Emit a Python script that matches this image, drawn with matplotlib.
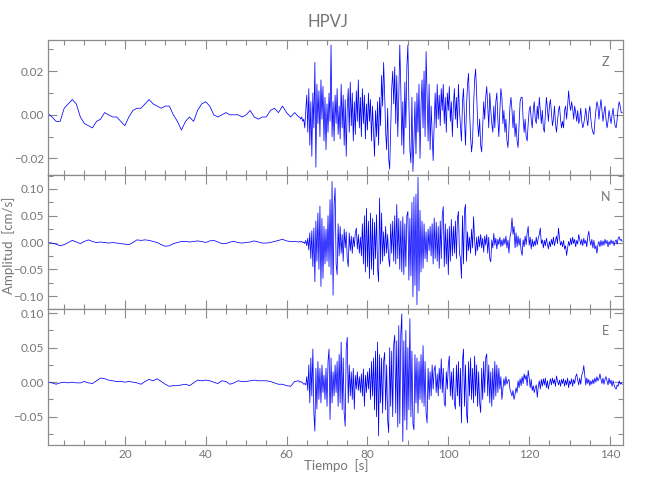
import matplotlib
matplotlib.use("Agg")

import numpy as np
import matplotlib.pyplot as plt
from matplotlib.ticker import MultipleLocator, FuncFormatter


STATION = "HPVJ"
COMPONENTS = ["Z", "N", "E"]

# Amplitudes read from the record, in units of 1e-3 cm/s.
# Pre-event part: one reading per second, t = 1 ... 63 s
pre_time = np.arange(1, 64, 1.0)
# Event part: four readings per second, t = 63.25 ... 143 s (one row = 5 s)
event_time = np.arange(63.25, 143.01, 0.25)

z_pre = [
    0.5, -1, -3, -3, 3, 5, 7, 5, -1, -4,
    -5, -6, -3, -2, 1, 0, -1, -1, -3, -5,
    -1, 2, 3, 3, 5, 7, 5, 4, 3, 4,
    4, 0, -3, -7, -3, -1, -3, 2, 5, 6,
    4, 0, -1, 0, 1, 0, 0, 0, -1, 0,
    2, -1, -2, -1, -1, 2, 3, 1, 4, 1,
    -1, 1, -1,
]

z_event = [
    -1, -2, -1, -3, -2, -6, 2, 9, -8, 12, -14, 6, -19, 10, -6, 24, -24, 14, -4, 11,
    -10, 16, -2, 13, -12, 8, -16, 5, -8, 10, -3, 32, -10, 6, -12, 9, -4, 12, -9, 4,
    -11, 14, -6, 9, -14, 7, -19, 3, 12, -8, 15, -5, 10, -12, 6, -9, 11, -3, 16, -6,
    8, -10, 12, -4, 9, -11, 5, -7, 10, -3, 7, -12, 4, -8, -19, 2, -10, 6, -14, 8,
    -5, 18, 4, 24, 10, -8, -16, 3, -20, -25, -6, 12, 20, 5, 22, -4, 18, -10, 8, 32,
    12, -14, 6, -18, 15, -6, 22, 32, 5, -16, -22, 8, -26, -12, 6, -18, 10, -8, 14, -20,
    4, 16, -6, 20, -10, 29, 8, -12, 14, -16, 4, -8, -21, -4, 10, -6, 14, -2, 9, -5,
    12, 2, 14, -4, 8, -8, 10, 2, 13, -3, 6, -10, 4, 12, -2, 8, -6, 14, 2, -5,
    -12, 6, 12, -2, -14, 4, 14, 19, 2, -10, -17, -12, 4, 16, 21, 10, -4, -10, -2, -14,
    -17, -6, 6, -2, 8, 13, 4, -6, 10, 2, -4, -8, 4, -6, 6, 10, -2, -10, 2, 12,
    8, -4, 2, -8, -2, -12, -15, -6, 4, 8, 2, -6, 2, -10, -4, -12, -15, -4, 6, 8,
    8, -2, -8, -2, -10, -12, -4, 2, 4, -2, -6, 2, 6, -2, -4, 4, -2, 8, 2, -4,
    2, -6, -8, 0, 8, 3, -3, 4, 7, 1, -5, -2, 4, -4, -8, -3, 2, 4, -2, -6,
    -3, -6, 2, 4, -2, 4, 11, 5, 2, 6, 3, -2, 4, 1, -3, 2, -4, -2, 3, -3,
    -6, -4, -1, 3, -2, -5, 1, 4, -2, -6, -8, -9, -3, 2, 6, 4, -2, 3, 7, 2,
    -3, 1, 4, -2, -6, -3, 2, -1, -4, 0, 3, -2, -5, -6, -2, 3, 6, 4, 1, 1,
]

n_pre = [
    0, -1, -3, -6, -4, 0, 4, 1, -2, 2,
    5, 2, 0, 1, 0, -1, 0, -1, -2, -3,
    -4, 0, 5, 4, 5, 4, 2, 0, -4, -7,
    -6, -2, 0, 2, 2, 1, 2, 3, 2, 0,
    3, 4, 1, -2, -2, 1, 2, 0, -1, 0,
    1, 3, 1, -1, -1, 0, 2, 4, 6, 3,
    2, 2, 1,
]

n_event = [
    2, 1, 2, 0, 1, -2, 4, -6, 8, -14, 18, -30, 22, -45, 27, -73, 40, -35, 55, -50,
    68, -82, 45, -67, 30, -40, 25, -35, 50, -45, 80, -60, 114, -98, 70, 102, -40, -60, 35, -25,
    30, -20, 15, -35, 25, -10, 20, -30, -45, 18, -15, 12, -20, 10, -8, 18, 27, -12, 15, -20,
    10, -25, 35, -40, 50, -55, 64, -45, 40, -67, 55, -50, 45, -60, 38, -30, 52, -48, -73, 83,
    -40, 55, -35, 20, -25, 30, -20, 15, -30, -45, 35, -20, 40, -35, 50, -40, 71, -30, 45, -50,
    40, -55, 48, -60, 35, -45, 50, 58, -70, 45, -62, 75, -101, 85, -80, 90, -116, 122, -90, 60,
    -55, 40, -48, 35, -30, 20, -36, 25, -15, 30, -25, 35, -40, 46, -30, 38, -35, 30, -48, 40,
    -30, 50, 67, -45, 35, -40, 25, -60, 30, -35, 43, -25, 30, -20, 40, -30, 45, 58, -20, -29,
    -67, 50, -40, 60, 71, -35, 20, -15, 10, -20, 25, -10, 48, 5, -24, 10, -15, 12, -8, 15,
    -10, 8, -18, 12, -5, 15, -20, 10, -30, -36, 5, -10, 17, -5, 8, -12, 6, -4, 10, -8,
    5, -6, 8, -3, 12, -10, 4, -20, 10, 20, 46, 15, 30, -10, 18, -8, 12, -5, 8, -15,
    -24, 5, -8, 12, -4, 18, 30, -5, 10, -12, 6, -8, 3, -6, 10, -4, 8, 15, 27, -2,
    5, -10, 4, -6, 8, -3, -12, 2, -8, 6, -4, 10, -6, 4, 12, -2, 27, 8, -5, 2,
    -8, 4, -12, -6, -24, -10, 2, -6, 8, -4, 10, -2, 6, -8, 4, -3, 15, 5, -4, 6,
    -6, 8, -2, 4, -8, 12, 21, 3, -5, 6, -10, 4, -12, -6, -20, -4, 2, -8, 4, -6,
    3, -5, 6, -2, 4, -8, 2, -4, 5, -2, 3, -6, 2, 5, -3, 8, 11, 4, 6, 2,
]

e_pre = [
    0, -1, -3, -1, 0, -1, 0, -1, -1, 1,
    -1, -2, 2, 6, 5, 3, 2, 1, 1, 0,
    1, 0, -1, -3, 1, 4, 2, 5, 1, -3,
    -6, -5, -5, -4, -3, -5, -1, 3, 2, 3,
    2, 0, -2, 2, 1, -3, -1, 2, 1, 1,
    2, 3, 2, 2, 2, 1, -1, -3, -3, -5,
    -6, 1, 2,
]

e_event = [
    0, 1, 0, -1, -3, -2, -4, 8, -12, 25, -30, 35, -20, 48, -45, -71, 20, -39, 30, -25,
    20, -30, 25, -15, 10, -25, 20, -35, 30, 48, -54, 35, -30, 15, -20, 25, -15, 30, -35, 40,
    -30, 58, -40, 35, -45, -64, 50, 65, -30, 25, -20, 15, -25, 20, -39, 10, -10, 15, -12, 8,
    -15, 12, -20, 19, -35, 10, -15, 15, -10, 20, -25, 30, -20, 35, -40, 45, -50, 58, -78, 40,
    -30, 35, -45, 30, 43, -40, 25, -55, -73, 50, -35, 45, -50, 55, 68, -45, 60, -65, 82, -60,
    70, 99, -86, 60, -55, 75, -69, 50, -40, 92, -50, 45, -60, -69, 40, -30, 35, -45, 30, -25,
    40, -30, 53, -35, 30, -45, -59, 20, -25, 15, -20, 25, -10, 18, 24, -15, 12, -20, 20, -10,
    34, -15, 20, -30, -35, 15, -10, 25, 38, -20, 15, -25, 20, -30, -39, 25, -20, 30, -35, 20,
    -59, 30, 48, -35, 25, -45, -59, 30, -20, 35, -25, 20, -30, 38, -20, 25, -35, 15, -30, -44,
    20, -25, 30, -15, 35, 41, -20, 25, -30, 15, -35, 20, -25, 30, -20, 25, -15, 20, -10, 8,
    -25, -10, 5, -5, 8, -3, 2, 4, -10, -15, -20, -12, -25, -18, -8, -15, 2, -8, 5, -5,
    8, -2, 12, 4, 10, -5, 17, 6, -8, 4, -12, -5, -15, -8, -4, -22, -6, 2, -10, 4,
    -6, 5, -4, 6, -8, 2, -10, -2, 5, -4, 6, -2, 4, -6, 9, 2, -4, 3, -6, 4,
    -2, 5, -6, 3, -4, 6, -8, 2, -3, 5, -6, 4, -2, 8, 12, 3, -4, 6, -3, 10,
    14, 24, 10, -4, 6, -2, 4, -5, 2, -3, 4, -2, 6, 0, 8, 2, 5, 12, 4, -2,
    6, -3, 4, 8, 2, -4, 6, -2, 3, -6, 2, -4, -8, -10, -4, -6, 2, -3, -1, -3,
]

Y_LIMITS = [(-0.0276, 0.0343), (-0.124, 0.126), (-0.091, 0.106)]
Y_MAJOR = [0.02, 0.05, 0.05]
Y_MINOR = [0.01, 0.025, 0.025]

GREY = "#767676"
FONT = "Lato"


def build_trace(pre, event):

    assert len(pre) == len(pre_time)
    assert len(event) == len(event_time)

    t = np.concatenate([pre_time, event_time])
    a = np.concatenate([pre, event]) * 1e-3

    return t, a


def signed(value, pos):

    return f"{value:.2f}".replace("-", "\u2212")


def plot_seismogram():

    traces = [
        build_trace(z_pre, z_event),
        build_trace(n_pre, n_event),
        build_trace(e_pre, e_event),
    ]

    fig = plt.figure(figsize=(6.5, 5.0), dpi=100)

    left, width = 48 / 650, 575 / 650
    panels = [(40, 175), (175, 309), (309, 445)]

    for i, (top, bottom) in enumerate(panels):

        ax = fig.add_axes([left, 1 - bottom / 500, width, (bottom - top) / 500])

        t, a = traces[i]
        ax.plot(t, a, color="#0000ff", linewidth=0.55)

        ax.set_xlim(1, 143.2)
        ax.set_ylim(*Y_LIMITS[i])

        ax.xaxis.set_major_locator(MultipleLocator(20))
        ax.xaxis.set_minor_locator(MultipleLocator(5))
        ax.yaxis.set_major_locator(MultipleLocator(Y_MAJOR[i]))
        ax.yaxis.set_minor_locator(MultipleLocator(Y_MINOR[i]))
        ax.yaxis.set_major_formatter(FuncFormatter(signed))

        ax.tick_params(
            which="both", direction="in", top=True, right=True,
            color="#8a8a8a", labelcolor=GREY, labelsize=8.5, pad=3,
        )
        ax.tick_params(which="major", length=6.5, width=0.8)
        ax.tick_params(which="minor", length=3.5, width=0.8)

        for label in ax.get_xticklabels() + ax.get_yticklabels():
            label.set_family(FONT)

        if i < 2:
            ax.tick_params(labelbottom=False)

        for spine in ax.spines.values():
            spine.set_color("#8a8a8a")
            spine.set_linewidth(0.9)

        ax.text(
            0.970, 0.835, COMPONENTS[i], transform=ax.transAxes,
            ha="center", va="center", color=GREY, fontsize=9, family=FONT,
        )

    fig.text(0.505, 0.956, STATION, ha="center", va="center",
             color=GREY, fontsize=12, family=FONT)

    fig.text(0.517, 0.068, "Tiempo  [s]", ha="center", va="center",
             color=GREY, fontsize=9.5, family=FONT)

    fig.text(0.013, 0.51, "Amplitud  [cm/s]", ha="center", va="center",
             rotation=90, color=GREY, fontsize=9.5, family=FONT)

    fig.savefig("out.png", dpi=100)
    plt.close(fig)


plot_seismogram()
